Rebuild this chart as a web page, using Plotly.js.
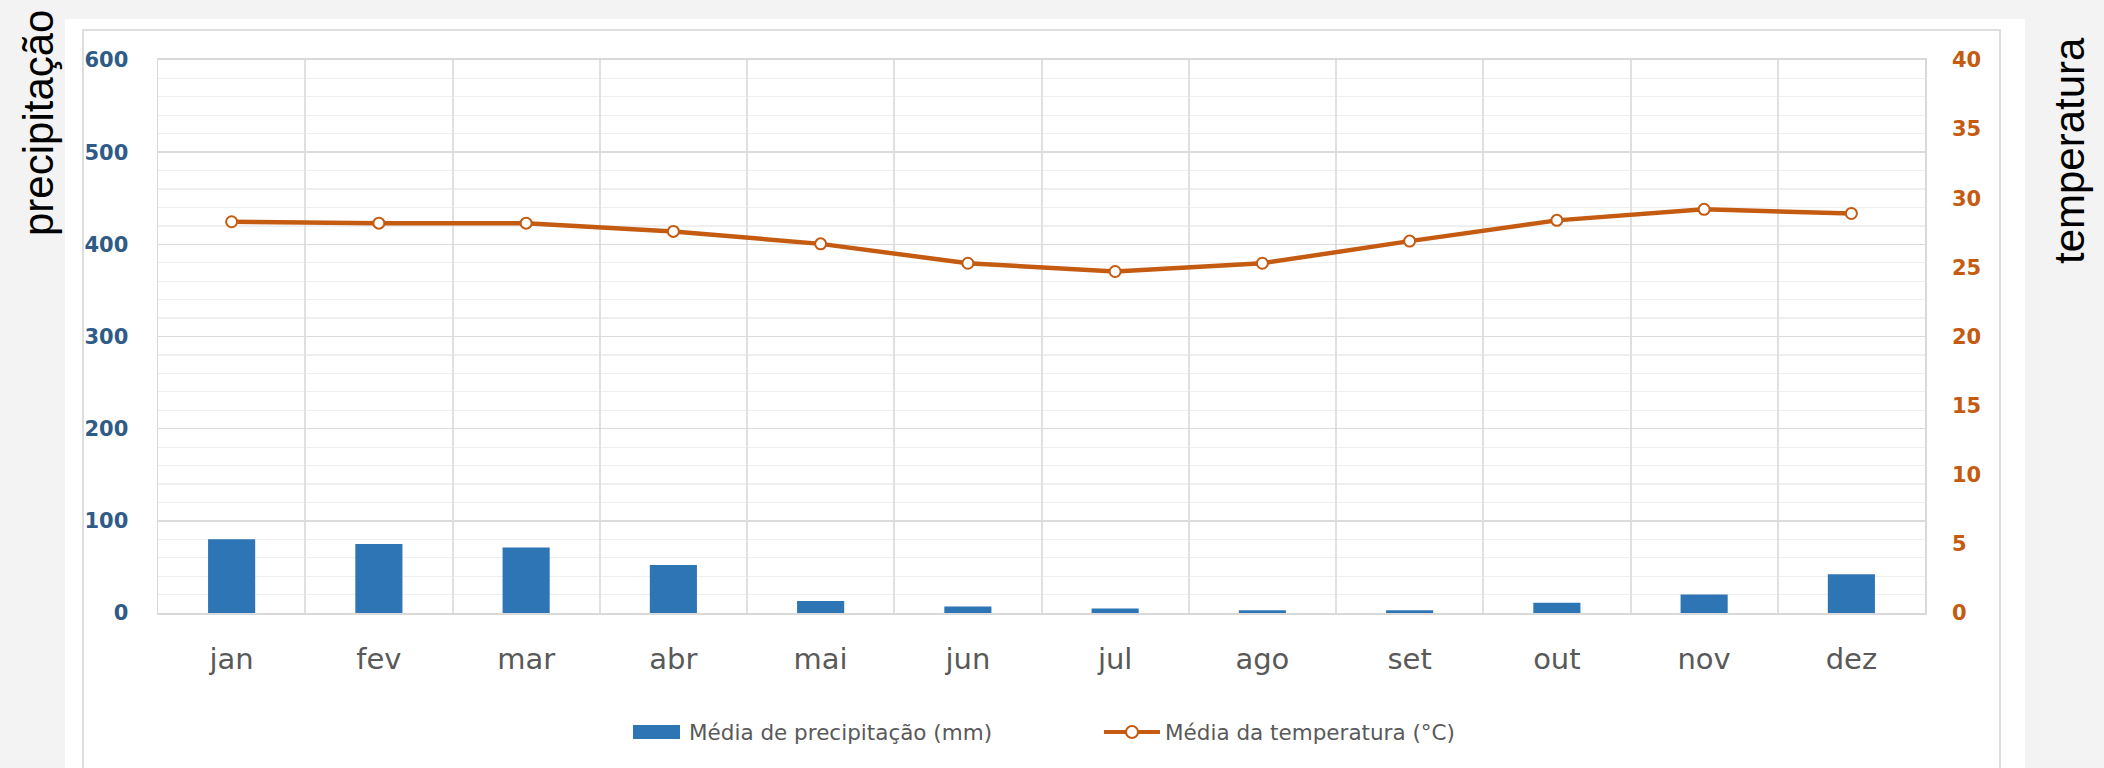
<!DOCTYPE html>
<html>
<head>
<meta charset="utf-8">
<script src="https://cdn.plot.ly/plotly-3.0.1.min.js"></script>
<style>
  html, body { margin: 0; padding: 0; background: #f3f3f3; }
  #chart { width: 2104px; height: 768px; }
</style>
</head>
<body>
<div id="chart"></div>
<script>
// ---- data ----
const months = ['jan', 'fev', 'mar', 'abr', 'mai', 'jun', 'jul', 'ago', 'set', 'out', 'nov', 'dez'];
const precipitation = [80, 75, 71, 52, 13, 7, 5, 3, 3, 11, 20, 42];
const temperature = [28.3, 28.2, 28.2, 27.6, 26.7, 25.3, 24.7, 25.3, 26.9, 28.4, 29.2, 28.9];
const leftTicks = [0, 100, 200, 300, 400, 500, 600];
const rightTicks = [0, 5, 10, 15, 20, 25, 30, 35, 40];
const precipName = 'Média de precipitação (mm)';
const tempName = 'Média da temperatura (°C)';
const leftTitle = 'precipitação';
const rightTitle = 'temperatura';

// ---- geometry helpers (pixel -> paper) ----
const L = 158, R = 1925, T = 60, B = 613;
const px = x => (x - L) / (R - L);
const py = y => (B - y) / (B - T);

const BLUE = '#2e75b6';
const ORANGE = '#c55a11';

const traces = [
  {
    type: 'bar',
    x: months,
    y: precipitation,
    name: precipName,
    marker: { color: BLUE },
    width: 0.32,
    yaxis: 'y',
    hoverinfo: 'x+y'
  },
  {
    type: 'scatter',
    mode: 'lines+markers',
    x: months,
    y: temperature,
    name: tempName,
    yaxis: 'y2',
    line: { color: ORANGE, width: 4.5 },
    marker: { symbol: 'circle', size: 11, color: '#ffffff', line: { color: ORANGE, width: 2 } },
    cliponaxis: false
  }
];

const layout = {
  width: 2104,
  height: 768,
  autosize: false,
  margin: { l: L, r: 2104 - R, t: T, b: 768 - B, pad: 0 },
  paper_bgcolor: '#f3f3f3',
  plot_bgcolor: 'rgba(0,0,0,0)',
  showlegend: false,
  xaxis: {
    type: 'category',
    range: [-0.5, months.length - 0.5],
    tickson: 'boundaries',
    showgrid: true,
    gridcolor: '#e0e0e0',
    gridwidth: 2,
    ticks: '',
    showline: true,
    linecolor: '#d9d9d9',
    linewidth: 2,
    mirror: true,
    zeroline: false,
    ticklabelstandoff: 19,
    tickfont: { family: 'DejaVu Sans, sans-serif', size: 29, color: '#595959' },
    fixedrange: true
  },
  yaxis: {
    range: [0, 600],
    tickvals: leftTicks,
    ticktext: leftTicks.map(String),
    showgrid: true,
    gridcolor: '#dcdcdc',
    gridwidth: 1.5,
    minor: { dtick: 20, showgrid: true, gridcolor: '#efefef', gridwidth: 1.2 },
    zeroline: false,
    showline: true,
    linecolor: '#d9d9d9',
    linewidth: 1.5,
    mirror: true,
    ticks: '',
    ticklabelstandoff: 24,
    tickfont: { family: 'DejaVu Sans, sans-serif', size: 21, color: '#2f5b87', weight: 'bold' },
    fixedrange: true
  },
  yaxis2: {
    range: [0, 40],
    tickvals: rightTicks,
    ticktext: rightTicks.map(String),
    overlaying: 'y',
    side: 'right',
    showgrid: false,
    zeroline: false,
    showline: false,
    ticks: '',
    ticklabelstandoff: 26,
    tickfont: { family: 'DejaVu Sans, sans-serif', size: 21, color: ORANGE, weight: 'bold' },
    fixedrange: true
  },
  shapes: [
    { type: 'rect', xref: 'paper', yref: 'paper', layer: 'below',
      x0: px(65), x1: px(2025), y0: py(19), y1: py(790),
      fillcolor: '#ffffff', line: { width: 0 } },
    { type: 'rect', xref: 'paper', yref: 'paper', layer: 'below',
      x0: px(83), x1: px(2000), y0: py(30), y1: py(800),
      fillcolor: 'rgba(0,0,0,0)', line: { color: '#dedede', width: 2 } },
    // legend symbols
    { type: 'rect', xref: 'paper', yref: 'paper',
      x0: px(633), x1: px(680), y0: py(739), y1: py(725),
      fillcolor: BLUE, line: { width: 0 } },
    { type: 'line', xref: 'paper', yref: 'paper',
      x0: px(1104), x1: px(1160), y0: py(732), y1: py(732),
      line: { color: ORANGE, width: 4 } },
    { type: 'circle', xref: 'paper', yref: 'paper',
      x0: px(1126), x1: px(1138), y0: py(738), y1: py(726),
      fillcolor: '#ffffff', line: { color: ORANGE, width: 2 } }
  ],
  annotations: [
    { xref: 'paper', yref: 'paper', x: px(38), y: py(123), text: leftTitle,
      textangle: -90, showarrow: false, xanchor: 'center', yanchor: 'middle',
      font: { family: 'Liberation Sans, Arial, sans-serif', size: 42, color: '#000000' } },
    { xref: 'paper', yref: 'paper', x: px(2069), y: py(151), text: rightTitle,
      textangle: -90, showarrow: false, xanchor: 'center', yanchor: 'middle',
      font: { family: 'Liberation Sans, Arial, sans-serif', size: 42, color: '#000000' } },
    { xref: 'paper', yref: 'paper', x: px(687), y: py(732), text: precipName,
      showarrow: false, xanchor: 'left', yanchor: 'middle',
      font: { family: 'DejaVu Sans, sans-serif', size: 21.5, color: '#595959' } },
    { xref: 'paper', yref: 'paper', x: px(1163), y: py(732), text: tempName,
      showarrow: false, xanchor: 'left', yanchor: 'middle',
      font: { family: 'DejaVu Sans, sans-serif', size: 21.5, color: '#595959' } }
  ]
};

Plotly.newPlot('chart', traces, layout, { displayModeBar: false, staticPlot: true });
</script>
</body>
</html>
